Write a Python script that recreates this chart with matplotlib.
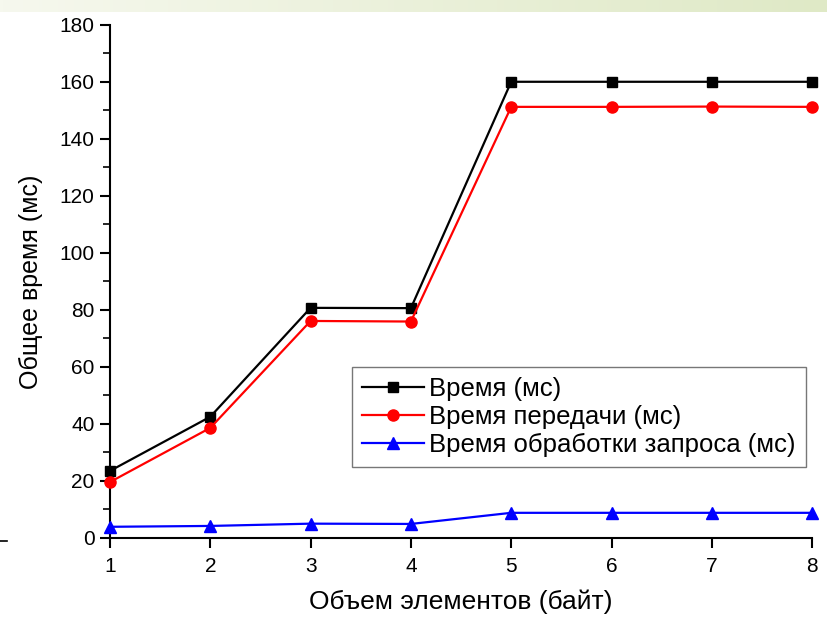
import matplotlib.pyplot as plt
from matplotlib.colors import LinearSegmentedColormap
from matplotlib.lines import Line2D
import numpy as np

plt.rcParams['font.family'] = ['Liberation Sans', 'DejaVu Sans']

# Data
sizes = [1, 2, 3, 4, 5, 6, 7, 8]
total_time = [23.5, 42.5, 80.7, 80.6, 160.0, 160.0, 160.0, 160.0]
transfer_time = [19.6, 38.6, 76.1, 75.9, 151.2, 151.2, 151.3, 151.2]
request_time = [3.9, 4.2, 5.0, 4.9, 8.8, 8.8, 8.8, 8.8]

labels = ['Время (мс)', 'Время передачи (мс)', 'Время обработки запроса (мс)']

fig = plt.figure(figsize=(8.27, 6.19), dpi=100)

# Pale gradient strip along the top edge
band = fig.add_axes([0, 0.98, 1, 0.02])
grad = np.linspace(0, 1, 256).reshape(1, -1)
band.imshow(grad, aspect='auto',
            cmap=LinearSegmentedColormap.from_list('band', ['#f6f8ee', '#dfe9c6']))
band.axis('off')

# small stray dash at the left edge of the slide
fig.add_artist(Line2D([0.0, 0.009], [0.126, 0.126], color='black', linewidth=1.2))

ax = fig.add_axes([0.133, 0.131, 0.849, 0.829])

ax.plot(sizes, total_time, color='black', marker='s', markersize=7, linewidth=1.6,
        label=labels[0], clip_on=False, zorder=3)
ax.plot(sizes, transfer_time, color='red', marker='o', markersize=8, linewidth=1.6,
        label=labels[1], clip_on=False, zorder=3)
ax.plot(sizes, request_time, color='blue', marker='^', markersize=8, linewidth=1.6,
        label=labels[2], clip_on=False, zorder=3)

ax.set_xlim(1, 8)
ax.set_ylim(0, 180)
ax.set_xticks(sizes)
ax.set_yticks(np.arange(0, 181, 20))
ax.set_yticks(np.arange(10, 180, 20), minor=True)

for s in ['top', 'right']:
    ax.spines[s].set_visible(False)
for s in ['left', 'bottom']:
    ax.spines[s].set_linewidth(1.5)

ax.tick_params(axis='both', which='major', direction='out', length=7.5, width=1.5, labelsize=15)
ax.tick_params(axis='y', which='minor', direction='out', length=5, width=1.2)
ax.tick_params(axis='x', pad=6)

ax.set_xlabel('Объем элементов (байт)', fontsize=19, labelpad=10)
ax.set_ylabel('Общее время (мс)', fontsize=18, labelpad=12)

leg = ax.legend(loc='lower right', bbox_to_anchor=(0.991, 0.138), fontsize=18.5,
                frameon=True, fancybox=False, edgecolor='#555555', labelspacing=0.15,
                handlelength=2.4, handletextpad=0.2, borderpad=0.4, borderaxespad=0)
leg.get_frame().set_linewidth(1.0)

fig.savefig('out.png', dpi=100)
